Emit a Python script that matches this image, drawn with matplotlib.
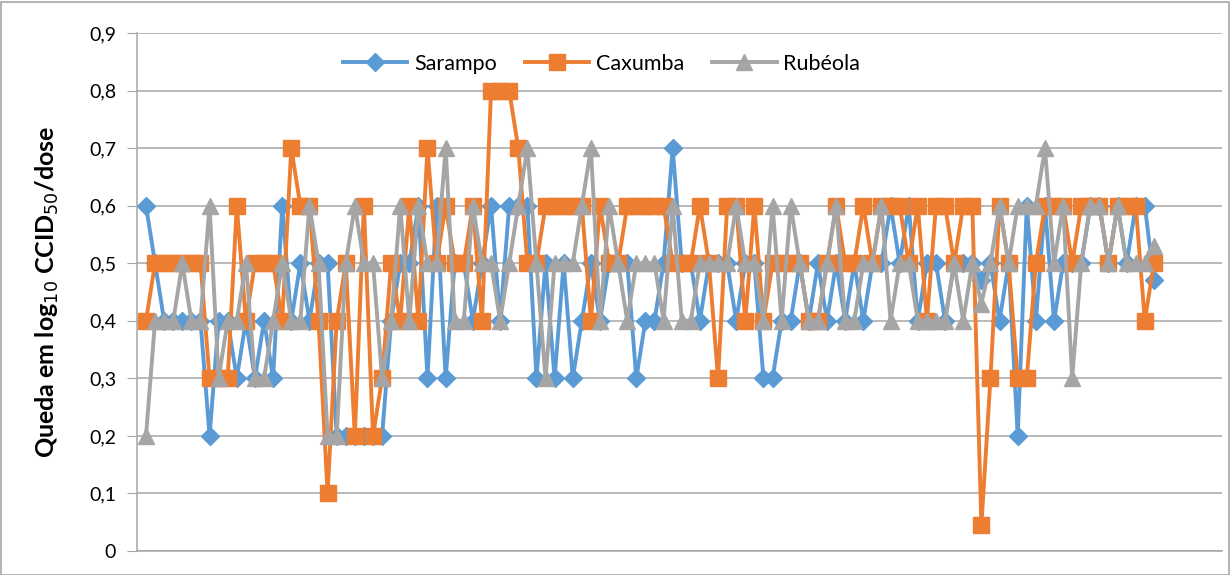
import matplotlib
matplotlib.use("Agg")
import matplotlib.pyplot as plt
from matplotlib.patches import Rectangle
import numpy as np

plt.rcParams['font.family'] = ['Lato', 'DejaVu Sans']

sarampo = [0.6, 0.5, 0.4, 0.4, 0.4, 0.4, 0.4, 0.2, 0.4, 0.4,
           0.3, 0.4, 0.3, 0.4, 0.3, 0.6, 0.4, 0.5, 0.4, 0.5,
           0.5, 0.2, 0.2, 0.2, 0.2, 0.2, 0.2, 0.4, 0.5, 0.5,
           0.6, 0.3, 0.6, 0.3, 0.5, 0.5, 0.4, 0.5, 0.6, 0.4,
           0.6, 0.6, 0.6, 0.3, 0.5, 0.3, 0.5, 0.3, 0.4, 0.5,
           0.4, 0.5, 0.5, 0.5, 0.3, 0.4, 0.4, 0.5, 0.7, 0.5,
           0.5, 0.4, 0.5, 0.5, 0.5, 0.4, 0.5, 0.5, 0.3, 0.3,
           0.4, 0.4, 0.5, 0.4, 0.5, 0.4, 0.5, 0.4, 0.5, 0.4,
           0.5, 0.5, 0.6, 0.5, 0.6, 0.4, 0.5, 0.5, 0.4, 0.5,
           0.5, 0.5, 0.47, 0.5, 0.4, 0.5, 0.2, 0.6, 0.4, 0.6,
           0.4, 0.5, 0.5, 0.5, 0.6, 0.6, 0.5, 0.6, 0.5, 0.6,
           0.6, 0.47]

caxumba = [0.4, 0.5, 0.5, 0.5, 0.5, 0.5, 0.5, 0.3, 0.3, 0.3,
           0.6, 0.4, 0.5, 0.5, 0.5, 0.4, 0.7, 0.6, 0.6, 0.4,
           0.1, 0.4, 0.5, 0.2, 0.6, 0.2, 0.3, 0.5, 0.4, 0.6,
           0.4, 0.7, 0.5, 0.6, 0.5, 0.5, 0.6, 0.4, 0.8, 0.8,
           0.8, 0.7, 0.5, 0.5, 0.6, 0.6, 0.6, 0.6, 0.6, 0.4,
           0.6, 0.5, 0.5, 0.6, 0.6, 0.6, 0.6, 0.6, 0.5, 0.5,
           0.5, 0.6, 0.5, 0.3, 0.6, 0.6, 0.4, 0.6, 0.4, 0.5,
           0.5, 0.5, 0.5, 0.4, 0.4, 0.5, 0.6, 0.5, 0.5, 0.6,
           0.5, 0.6, 0.6, 0.6, 0.5, 0.6, 0.4, 0.6, 0.6, 0.5,
           0.6, 0.6, 0.045, 0.3, 0.6, 0.5, 0.3, 0.3, 0.5, 0.6,
           0.6, 0.6, 0.5, 0.6, 0.6, 0.6, 0.5, 0.6, 0.6, 0.6,
           0.4, 0.5]

rubeola = [0.2, 0.4, 0.4, 0.4, 0.5, 0.4, 0.4, 0.6, 0.3, 0.4,
           0.4, 0.5, 0.3, 0.3, 0.4, 0.5, 0.4, 0.4, 0.6, 0.5,
           0.2, 0.2, 0.5, 0.6, 0.5, 0.5, 0.3, 0.4, 0.6, 0.4,
           0.6, 0.5, 0.5, 0.7, 0.4, 0.4, 0.6, 0.5, 0.5, 0.4,
           0.5, 0.6, 0.7, 0.5, 0.3, 0.5, 0.5, 0.5, 0.6, 0.7,
           0.4, 0.6, 0.5, 0.4, 0.5, 0.5, 0.5, 0.4, 0.6, 0.4,
           0.4, 0.5, 0.5, 0.5, 0.5, 0.6, 0.5, 0.5, 0.4, 0.6,
           0.4, 0.6, 0.5, 0.4, 0.4, 0.5, 0.6, 0.4, 0.4, 0.5,
           0.5, 0.6, 0.4, 0.5, 0.5, 0.4, 0.4, 0.4, 0.4, 0.5,
           0.4, 0.5, 0.43, 0.5, 0.6, 0.5, 0.6, 0.6, 0.6, 0.7,
           0.5, 0.6, 0.3, 0.5, 0.6, 0.6, 0.5, 0.6, 0.5, 0.5,
           0.5, 0.53]

series_names = ["Sarampo", "Caxumba", "Rubéola"]
y_ticks = [0, 0.1, 0.2, 0.3, 0.4, 0.5, 0.6, 0.7, 0.8, 0.9]
y_tick_labels = ["0", "0,1", "0,2", "0,3", "0,4", "0,5", "0,6", "0,7", "0,8", "0,9"]

W, H = 1230, 575
fig = plt.figure(figsize=(W / 100, H / 100), dpi=100)
ax = fig.add_axes([137 / W, 1 - 551 / H, (1222 - 137) / W, (551 - 33) / H])

x = np.arange(len(sarampo))
styles = [
    dict(color="#5B9BD5", marker="D", ms=9.5),
    dict(color="#ED7D31", marker="s", ms=11.5),
    dict(color="#A5A5A5", marker="^", ms=12),
]
for data, name, st in zip([sarampo, caxumba, rubeola], series_names, styles):
    ax.plot(x, data, color=st["color"], lw=2.8, marker=st["marker"],
            ms=st["ms"], mfc=st["color"], mec=st["color"], label=name,
            solid_joinstyle="round")

ax.set_xlim(-0.99, 118.5)
ax.set_ylim(0, 0.9)
ax.set_yticks(y_ticks)
ax.set_yticklabels(y_tick_labels, fontsize=14)
ax.set_xticks([])
ax.grid(axis="y", color="#A6A6A6", lw=1.1)
ax.set_axisbelow(True)
for s in ["top", "right"]:
    ax.spines[s].set_visible(False)
ax.spines["left"].set_color("#A6A6A6")
ax.spines["bottom"].set_color("#A6A6A6")
ax.spines["left"].set_linewidth(1.1)
ax.spines["bottom"].set_linewidth(1.1)
ax.tick_params(axis="y", length=7, color="#A6A6A6", pad=8, labelcolor="#000000")

ax.set_ylabel("Queda em log$_{10}$ CCID$_{50}$/dose", fontsize=18,
              fontweight="bold", labelpad=20)

leg = ax.legend(loc="upper center", bbox_to_anchor=(0.428, 0.997), ncol=3,
                frameon=False, fontsize=15.5, handlelength=3.0,
                columnspacing=1.3, handletextpad=0.3)

fig.patches.append(Rectangle((0.5 / W, 0.5 / H), 1 - 2 / W, 1 - 2 / H,
                             transform=fig.transFigure, fill=False,
                             edgecolor="#A6A6A6", lw=1.2))

fig.savefig("out.png", dpi=100)
